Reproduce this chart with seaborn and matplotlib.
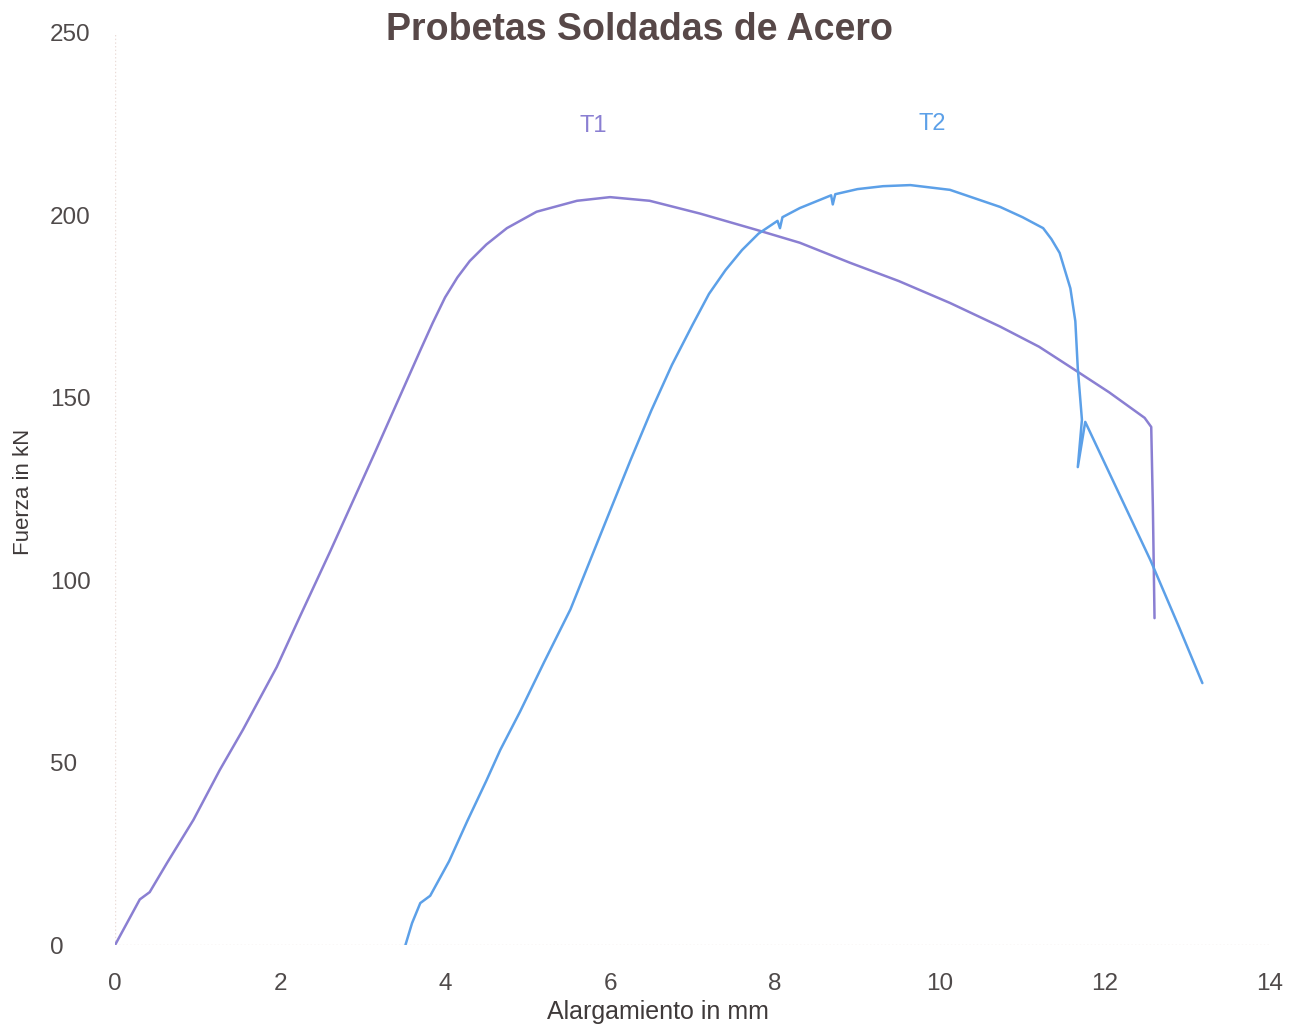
import matplotlib
matplotlib.use("Agg")
import matplotlib.pyplot as plt
import seaborn as sns
import pandas as pd

# Tensile test curves of welded steel specimens: elongation (mm) vs force (kN)
t1_elong = [0.00, 0.12, 0.30, 0.42, 0.63, 0.95, 1.27, 1.55, 1.96, 2.24, 2.61, 3.15,
            3.70, 3.85, 4.00, 4.15, 4.30, 4.50, 4.75, 5.11, 5.60, 6.00, 6.48, 7.09,
            7.78, 8.30, 8.91, 9.50, 10.12, 10.73, 11.20, 11.61, 12.05, 12.48, 12.56,
            12.58, 12.60]
t1_force = [0.0, 5.0, 12.5, 14.5, 22.5, 34.3, 48.0, 59.0, 76.2, 90.0, 108.0, 135.0,
            163.0, 170.5, 177.5, 183.0, 187.5, 192.0, 196.5, 201.0, 204.0, 205.0, 204.0,
            200.5, 196.0, 192.5, 187.0, 182.0, 176.0, 169.5, 164.0, 158.0, 151.5, 144.5,
            142.0, 120.0, 89.6]

t2_elong = [3.52, 3.60, 3.70, 3.82, 4.05, 4.27, 4.50, 4.67, 4.91, 5.20, 5.52, 6.00,
            6.25, 6.50, 6.75, 7.00, 7.20, 7.40, 7.60, 7.80, 8.03, 8.06, 8.09, 8.30,
            8.68, 8.70, 8.73, 9.00, 9.31, 9.64, 10.12, 10.73, 11.00, 11.25, 11.35,
            11.45, 11.58, 11.64, 11.67, 11.72, 11.67, 11.76, 12.15, 12.55, 12.90, 13.18]
t2_force = [0.0, 6.0, 11.5, 13.5, 23.0, 34.0, 45.0, 53.5, 64.0, 77.5, 92.0, 119.0,
            133.0, 146.5, 159.0, 170.0, 178.5, 185.0, 190.5, 195.0, 198.5, 196.5, 199.5,
            202.0, 205.5, 203.0, 205.8, 207.2, 208.0, 208.3, 207.0, 202.3, 199.5, 196.5,
            193.5, 189.7, 180.0, 171.0, 158.0, 144.0, 131.0, 143.4, 124.7, 105.5, 87.0,
            71.8]

series_names = ["T1", "T2"]
series_colors = {"T1": "#8a7fd2", "T2": "#5ca0e8"}
y_ticks = [0, 50, 100, 150, 200, 250]
x_ticks = [0, 2, 4, 6, 8, 10, 12, 14]

df = pd.concat([
    pd.DataFrame({"Alargamiento": t1_elong, "Fuerza": t1_force, "Probeta": "T1"}),
    pd.DataFrame({"Alargamiento": t2_elong, "Fuerza": t2_force, "Probeta": "T2"}),
], ignore_index=True)

sns.set_theme(style="white")
plt.rcParams["font.family"] = ["Liberation Sans", "DejaVu Sans"]

fig = plt.figure(figsize=(12.97, 10.30), dpi=100)
ax = fig.add_axes([0.0887, 0.0825, 0.8905, 0.8855])

# faint dotted reference lines along the axes
ax.axhline(0, color="#eadcd8", lw=1.0, ls=":", zorder=0)
ax.axvline(0, color="#eadcd8", lw=1.0, ls=":", zorder=0)

for name in series_names:
    sub = df[df["Probeta"] == name]
    sns.lineplot(data=sub, x="Alargamiento", y="Fuerza", sort=False, estimator=None,
                 color=series_colors[name], lw=1.8, ax=ax, legend=False)

ax.text(5.8, 224.5, "T1", color=series_colors["T1"], fontsize=17, ha="center", va="center")
ax.text(9.9, 225.0, "T2", color=series_colors["T2"], fontsize=17, ha="center", va="center")

ax.set_xlim(0, 14)
ax.set_ylim(0, 250)
ax.set_xticks(x_ticks)
ax.set_yticks(y_ticks)
ax.set_xticklabels([str(v) for v in x_ticks])
ax.set_yticklabels([str(v) for v in y_ticks])
ax.tick_params(axis="x", length=0, pad=20, labelsize=17.5, labelcolor="#4f4a4a")
ax.tick_params(axis="y", length=0, pad=47, labelsize=17.5, labelcolor="#4f4a4a")
plt.setp(ax.get_yticklabels(), ha="left")
for s in ax.spines.values():
    s.set_visible(False)

ax.set_xlabel("Alargamiento in mm", fontsize=18, color="#3f3a3a")
ax.xaxis.set_label_coords(0.470, -0.0735)
ax.xaxis.label.set_va("center")
ax.set_ylabel("Fuerza in kN", fontsize=16, color="#3f3a3a")
ax.yaxis.set_label_coords(-0.0795, 0.497)
ax.yaxis.label.set_va("center")

fig.text(0.4934, 0.971, "Probetas Soldadas de Acero", fontsize=27, fontweight="bold",
         color="#574848", ha="center", va="center")

fig.savefig("out.png", dpi=100, facecolor="white")
